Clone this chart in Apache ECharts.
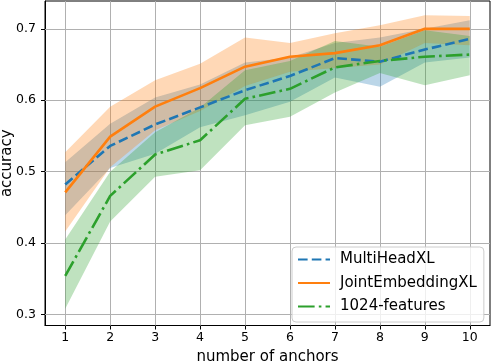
<!DOCTYPE html>
<html>
<head>
<meta charset="utf-8">
<script src="https://cdn.jsdelivr.net/npm/echarts@6/dist/echarts.min.js"></script>
<style>
html,body{margin:0;padding:0;background:#fff;}
#chart{width:492px;height:362px;}
</style>
</head>
<body>
<div id="chart"></div>
<script>
var anchors = [1, 2, 3, 4, 5, 6, 7, 8, 9, 10];
var xTicks = [1, 2, 3, 4, 5, 6, 7, 8, 9, 10];
var yTicks = [0.3, 0.4, 0.5, 0.6, 0.7];

var multiMean  = [0.482, 0.536, 0.566, 0.590, 0.614, 0.634, 0.659, 0.654, 0.671, 0.686];
var multiUpper = [0.513, 0.567, 0.604, 0.622, 0.653, 0.660, 0.680, 0.688, 0.700, 0.712];
var multiLower = [0.439, 0.505, 0.525, 0.562, 0.579, 0.598, 0.632, 0.619, 0.653, 0.660];

var jointMean  = [0.471, 0.549, 0.591, 0.617, 0.647, 0.661, 0.666, 0.677, 0.700, 0.700];
var jointUpper = [0.527, 0.591, 0.628, 0.651, 0.688, 0.680, 0.694, 0.705, 0.719, 0.718];
var jointLower = [0.416, 0.506, 0.558, 0.585, 0.620, 0.640, 0.645, 0.650, 0.680, 0.677];

var featMean  = [0.354, 0.466, 0.524, 0.544, 0.602, 0.616, 0.646, 0.655, 0.661, 0.664];
var featUpper = [0.405, 0.500, 0.555, 0.590, 0.642, 0.655, 0.683, 0.675, 0.698, 0.690];
var featLower = [0.308, 0.430, 0.493, 0.502, 0.565, 0.577, 0.611, 0.638, 0.621, 0.635];

var font = 'DejaVu Sans';
var lw = 2.6;

function pts(ys){
	return anchors.map(function(x, i){ return [x, ys[i]]; });
}

// one polygon per band: upper edge left->right, lower edge right->left
function bandItem(params, api){
	if(params.dataIndexInside !== 0) return null;
	var n = params.dataInsideLength;
	var top = [], bottom = [];
	for(var i = 0; i < n; i++){
		top.push(api.coord([api.value(0, i), api.value(2, i)]));
		bottom.unshift(api.coord([api.value(0, i), api.value(1, i)]));
	}
	return {
		type: 'polygon',
		shape: {points: top.concat(bottom)},
		style: {fill: api.visual('color'), opacity: 0.3}
	};
}
function band(key, up, lo, color){
	return {
		name: key, type: 'custom', renderItem: bandItem,
		data: anchors.map(function(x, i){ return [x, lo[i], up[i]]; }),
		encode: {x: 0, y: [1, 2]},
		itemStyle: {color: color}, z: 2, silent: true
	};
}
function meanLine(name, ys, color, dash){
	return {
		name: name, type: 'line', data: pts(ys), symbol: 'none',
		lineStyle: {color: color, width: lw, type: dash, cap: 'butt'},
		itemStyle: {color: color}, z: 4
	};
}

var gridLines = [];
xTicks.forEach(function(v){ gridLines.push({xAxis: v}); });
yTicks.forEach(function(v){ gridLines.push({yAxis: v}); });

var series = [{
	name: 'grid', type: 'line', data: [], z: 1, silent: true,
	markLine: {
		silent: true, symbol: 'none', z: 1, animation: false,
		label: {show: false},
		lineStyle: {color: '#b0b0b0', width: 1, type: 'solid'},
		data: gridLines
	}
}];
series.push(band('multi', multiUpper, multiLower, '#1f77b4'));
series.push(band('joint', jointUpper, jointLower, '#ff7f0e'));
series.push(band('feat', featUpper, featLower, '#2ca02c'));
series.push(meanLine('MultiHeadXL', multiMean, '#1f77b4', [3.7 * lw, 1.6 * lw]));
series.push(meanLine('JointEmbeddingXL', jointMean, '#ff7f0e', 'solid'));
series.push(meanLine('1024-features', featMean, '#2ca02c', [6.4 * lw, 1.6 * lw, 1 * lw, 1.6 * lw]));

var chart = echarts.init(document.getElementById('chart'));
chart.setOption({
	animation: false,
	textStyle: {fontFamily: font},
	grid: {
		left: 45, right: 2, top: 1, bottom: 36.5,
		outerBoundsMode: 'none',
		show: true, borderColor: '#000', borderWidth: 1, backgroundColor: 'transparent'
	},
	xAxis: {
		type: 'value', min: 0.55, max: 10.45,
		name: 'number of anchors', nameLocation: 'middle', nameGap: 24,
		nameTextStyle: {fontSize: 15, color: '#000', fontFamily: font},
		axisLine: {show: true, lineStyle: {color: '#000', width: 1}},
		axisTick: {show: true, customValues: xTicks, length: 4, inside: false, lineStyle: {color: '#000'}},
		axisLabel: {customValues: xTicks, fontSize: 12.5, color: '#000', margin: 6, fontFamily: font},
		splitLine: {show: false}
	},
	yAxis: {
		type: 'value', min: 0.2845, max: 0.739,
		name: 'accuracy', nameLocation: 'middle', nameGap: 30, nameRotate: 90,
		nameMoveOverlap: false,
		nameTextStyle: {fontSize: 15, color: '#000', fontFamily: font},
		axisLine: {show: true, lineStyle: {color: '#000', width: 1}},
		axisTick: {show: true, customValues: yTicks, length: 4, inside: false, lineStyle: {color: '#000'}},
		axisLabel: {customValues: yTicks, fontSize: 12.5, color: '#000', margin: 9, fontFamily: font,
			formatter: function(v){ return v.toFixed(1); }},
		splitLine: {show: false}
	},
	legend: {
		data: ['MultiHeadXL', 'JointEmbeddingXL', '1024-features'],
		orient: 'vertical', left: 292, top: 247,
		padding: [5, 7, 8, 5],
		itemWidth: 32, itemHeight: 14, itemGap: 8.5,
		selectedMode: false,
		itemStyle: {opacity: 0},
		backgroundColor: 'rgba(255,255,255,0.8)',
		borderColor: '#cccccc', borderWidth: 1, borderRadius: 4,
		textStyle: {fontSize: 15, color: '#000', fontFamily: font, padding: [0, 0, 0, 5]}
	},
	series: series
});
</script>
</body>
</html>
